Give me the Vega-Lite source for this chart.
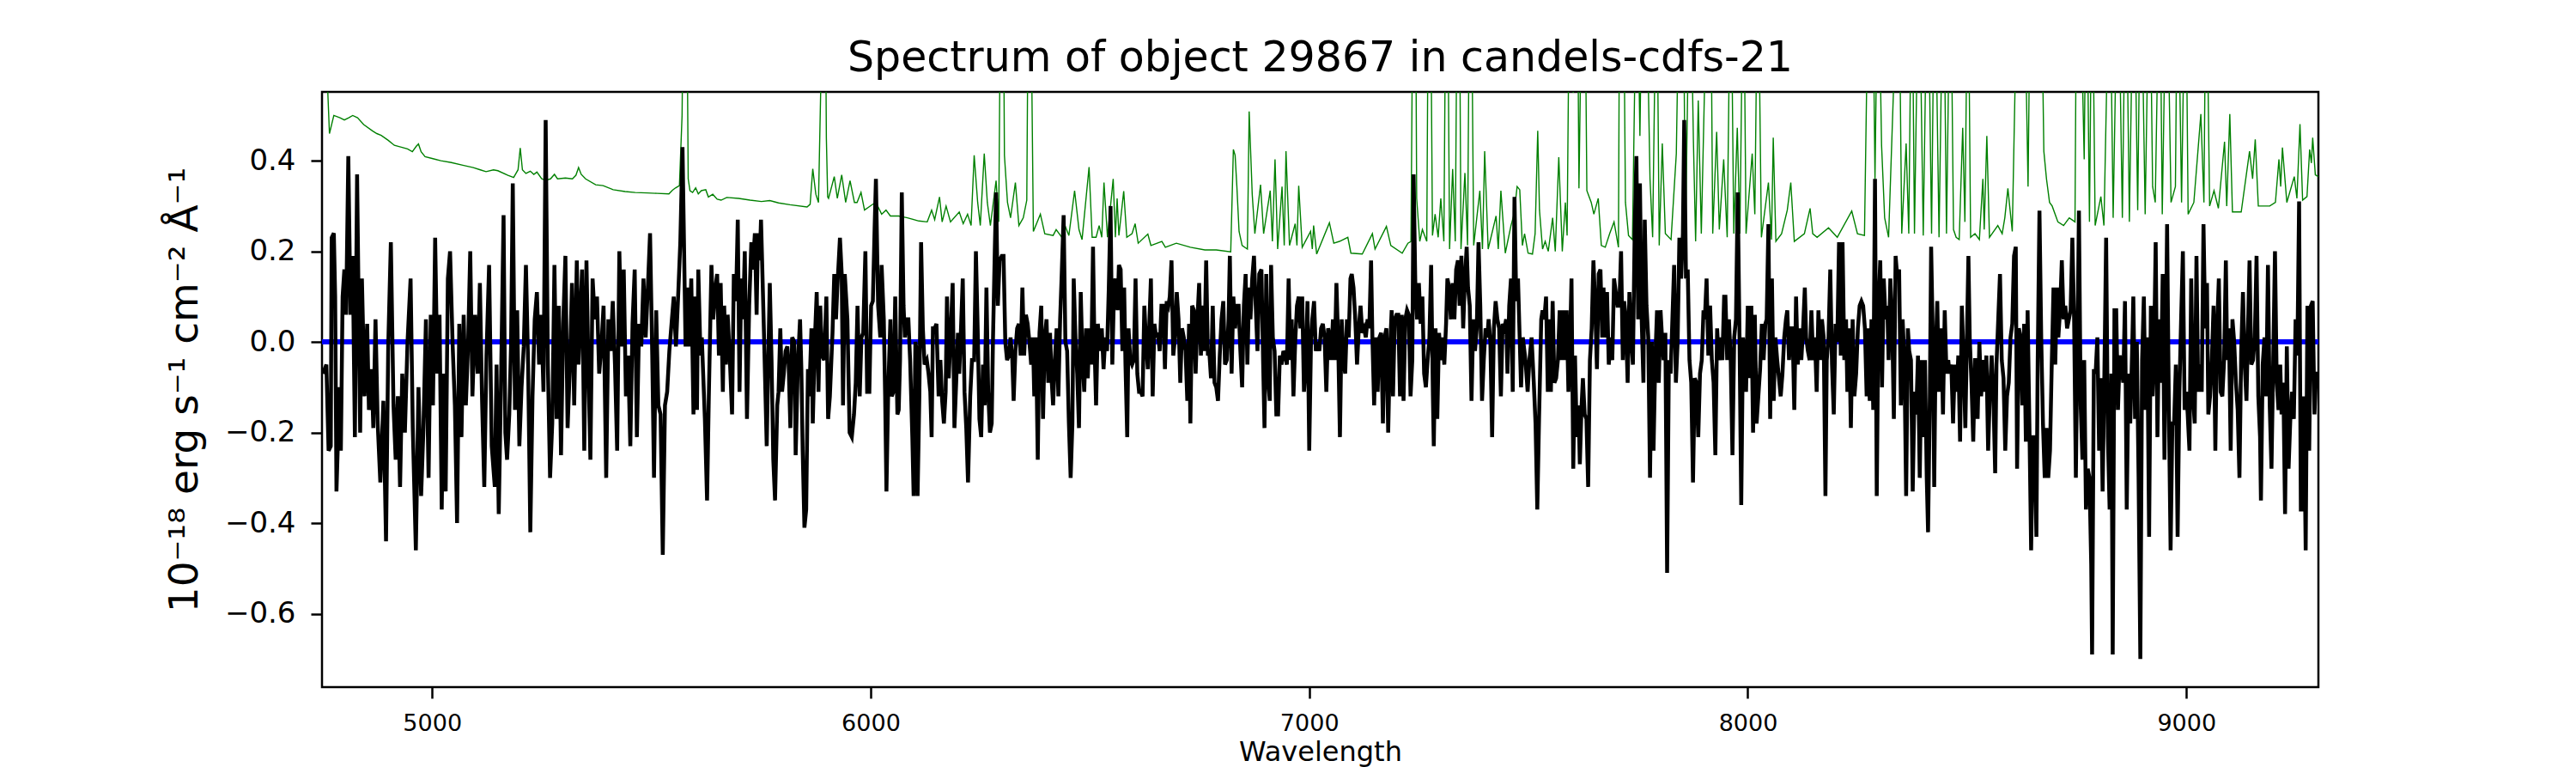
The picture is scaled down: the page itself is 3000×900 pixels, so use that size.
{
  "$schema": "https://vega.github.io/schema/vega-lite/v6.json",
  "autosize": {"type": "none"},
  "width": 2325,
  "height": 693,
  "padding": {"left": 375, "top": 107, "right": 300, "bottom": 100},
  "background": "white",
  "title": {"text": "Spectrum of object 29867 in candels-cdfs-21", "fontSize": 49, "font": "DejaVu Sans", "fontWeight": "normal", "color": "#000", "offset": 14, "anchor": "middle"},
  "datasets": {
    "sky": [
      {"w":4750,"f":0.9},{"w":4752,"f":0.8},{"w":4766,"f":0.46},{"w":4776,"f":0.5},{"w":4790,"f":0.495},{"w":4800,"f":0.49},{"w":4810,"f":0.495},{"w":4819,"f":0.5},{"w":4830,"f":0.495},{"w":4844,"f":0.48},{"w":4864,"f":0.466},{"w":4874,"f":0.46},{"w":4884,"f":0.456},{"w":4900,"f":0.445},{"w":4914,"f":0.434},{"w":4930,"f":0.43},{"w":4944,"f":0.426},{"w":4955,"f":0.42},{"w":4964,"f":0.432},{"w":4969,"f":0.437},{"w":4975,"f":0.42},{"w":4984,"f":0.409},{"w":5000,"f":0.405},{"w":5020,"f":0.4},{"w":5044,"f":0.396},{"w":5070,"f":0.39},{"w":5094,"f":0.385},{"w":5110,"f":0.38},{"w":5123,"f":0.376},{"w":5140,"f":0.38},{"w":5150,"f":0.378},{"w":5173,"f":0.368},{"w":5186,"f":0.363},{"w":5196,"f":0.38},{"w":5201,"f":0.428},{"w":5206,"f":0.38},{"w":5214,"f":0.372},{"w":5224,"f":0.377},{"w":5232,"f":0.37},{"w":5239,"f":0.375},{"w":5250,"f":0.36},{"w":5259,"f":0.357},{"w":5270,"f":0.36},{"w":5279,"f":0.37},{"w":5286,"f":0.36},{"w":5304,"f":0.362},{"w":5320,"f":0.36},{"w":5328,"f":0.368},{"w":5334,"f":0.385},{"w":5340,"f":0.37},{"w":5350,"f":0.36},{"w":5373,"f":0.347},{"w":5390,"f":0.345},{"w":5413,"f":0.336},{"w":5440,"f":0.332},{"w":5463,"f":0.33},{"w":5490,"f":0.329},{"w":5513,"f":0.328},{"w":5540,"f":0.327},{"w":5548,"f":0.335},{"w":5555,"f":0.34},{"w":5564,"f":0.345},{"w":5570,"f":0.5},{"w":5574,"f":0.9},{"w":5580,"f":0.9},{"w":5584,"f":0.36},
      {"w":5588,"f":0.334},{"w":5594,"f":0.33},{"w":5601,"f":0.34},{"w":5607,"f":0.327},{"w":5614,"f":0.334},{"w":5624,"f":0.336},{"w":5630,"f":0.32},{"w":5640,"f":0.326},{"w":5650,"f":0.315},{"w":5659,"f":0.313},{"w":5672,"f":0.319},{"w":5699,"f":0.317},{"w":5725,"f":0.313},{"w":5751,"f":0.31},{"w":5770,"f":0.312},{"w":5790,"f":0.307},{"w":5816,"f":0.303},{"w":5855,"f":0.298},{"w":5862,"f":0.304},{"w":5868,"f":0.382},{"w":5875,"f":0.326},{"w":5881,"f":0.308},{"w":5887,"f":0.6},{"w":5891,"f":0.9},{"w":5896,"f":0.9},{"w":5899,"f":0.45},{"w":5902,"f":0.32},{"w":5904,"f":0.317},{"w":5917,"f":0.365},{"w":5924,"f":0.317},{"w":5934,"f":0.369},{"w":5943,"f":0.308},{"w":5953,"f":0.356},{"w":5963,"f":0.308},{"w":5969,"f":0.308},{"w":5978,"f":0.33},{"w":5986,"f":0.291},{"w":6005,"f":0.304},{"w":6012,"f":0.308},{"w":6025,"f":0.282},{"w":6035,"f":0.291},{"w":6045,"f":0.278},{"w":6064,"f":0.278},{"w":6084,"f":0.274},{"w":6110,"f":0.267},{"w":6129,"f":0.265},{"w":6139,"f":0.291},{"w":6146,"f":0.27},{"w":6157,"f":0.32},{"w":6163,"f":0.265},{"w":6172,"f":0.3},{"w":6182,"f":0.265},{"w":6202,"f":0.287},{"w":6211,"f":0.261},{"w":6221,"f":0.282},{"w":6229,"f":0.257},{"w":6236,"f":0.412},{"w":6244,"f":0.308},{"w":6250,"f":0.257},{"w":6259,"f":0.416},{"w":6266,"f":0.308},{"w":6273,"f":0.257},{"w":6286,"f":0.356},{"w":6292,"f":0.265},{"w":6297,"f":0.9},{"w":6302,"f":0.9},{"w":6305,"f":0.412},{"w":6312,"f":0.308},{"w":6319,"f":0.274},{"w":6330,"f":0.352},{"w":6338,"f":0.257},{"w":6348,"f":0.274},{"w":6356,"f":0.313},{"w":6360,"f":0.9},{"w":6364,"f":0.9},{"w":6371,"f":0.244},{"w":6387,"f":0.282},{"w":6397,"f":0.239},{"w":6416,"f":0.235},{"w":6423,"f":0.248},{"w":6436,"f":0.231},{"w":6443,"f":0.257},{"w":6452,"f":0.235},{"w":6465,"f":0.334},{"w":6475,"f":0.248},{"w":6482,"f":0.226},{"w":6498,"f":0.386},{"w":6505,"f":0.231},
      {"w":6514,"f":0.231},{"w":6521,"f":0.257},{"w":6527,"f":0.231},{"w":6532,"f":0.352},{"w":6540,"f":0.231},{"w":6553,"f":0.36},{"w":6558,"f":0.231},{"w":6562,"f":0.317},{"w":6566,"f":0.235},{"w":6577,"f":0.333},{"w":6584,"f":0.231},{"w":6596,"f":0.239},{"w":6603,"f":0.261},{"w":6610,"f":0.218},{"w":6632,"f":0.238},{"w":6639,"f":0.213},{"w":6664,"f":0.222},{"w":6672,"f":0.209},{"w":6697,"f":0.218},{"w":6729,"f":0.209},{"w":6762,"f":0.203},{"w":6788,"f":0.203},{"w":6821,"f":0.199},{"w":6827,"f":0.425},{"w":6831,"f":0.412},{"w":6835,"f":0.343},{"w":6840,"f":0.244},{"w":6847,"f":0.213},{"w":6859,"f":0.205},{"w":6863,"f":0.509},{"w":6870,"f":0.326},{"w":6876,"f":0.239},{"w":6889,"f":0.347},{"w":6896,"f":0.239},{"w":6911,"f":0.334},{"w":6916,"f":0.222},{"w":6922,"f":0.403},{"w":6928,"f":0.205},{"w":6938,"f":0.343},{"w":6943,"f":0.213},{"w":6947,"f":0.421},{"w":6955,"f":0.213},{"w":6968,"f":0.261},{"w":6972,"f":0.213},{"w":6976,"f":0.345},{"w":6984,"f":0.209},{"w":7003,"f":0.244},{"w":7007,"f":0.205},{"w":7010,"f":0.257},{"w":7017,"f":0.194},{"w":7046,"f":0.263},{"w":7056,"f":0.218},{"w":7069,"f":0.222},{"w":7088,"f":0.231},{"w":7095,"f":0.196},{"w":7121,"f":0.194},{"w":7144,"f":0.239},{"w":7150,"f":0.205},{"w":7176,"f":0.255},{"w":7186,"f":0.213},{"w":7212,"f":0.196},{"w":7225,"f":0.218},{"w":7232,"f":0.222},{"w":7237,"f":0.9},{"w":7242,"f":0.9},{"w":7245,"f":0.317},{"w":7252,"f":0.222},{"w":7258,"f":0.248},{"w":7268,"f":0.222},{"w":7272,"f":0.9},{"w":7276,"f":0.9},{"w":7281,"f":0.235},{"w":7287,"f":0.282},{"w":7294,"f":0.231},{"w":7300,"f":0.317},{"w":7307,"f":0.222},{"w":7312,"f":0.9},{"w":7315,"f":0.9},{"w":7320,"f":0.205},{"w":7327,"f":0.382},{"w":7333,"f":0.222},{"w":7338,"f":0.9},{"w":7342,"f":0.9},{"w":7346,"f":0.205},{"w":7355,"f":0.373},{"w":7361,"f":0.213},{"w":7366,"f":0.9},{"w":7369,"f":0.9},{"w":7375,"f":0.213},{"w":7389,"f":0.334},{"w":7395,"f":0.205},{"w":7400,"f":0.421},{"w":7408,"f":0.205},{"w":7426,"f":0.278},{"w":7431,"f":0.205},{"w":7437,"f":0.334},{"w":7447,"f":0.196},{"w":7460,"f":0.257},{"w":7467,"f":0.282},{"w":7474,"f":0.343},
      {"w":7480,"f":0.336},{"w":7486,"f":0.213},{"w":7491,"f":0.239},{"w":7499,"f":0.196},{"w":7509,"f":0.194},{"w":7515,"f":0.239},{"w":7521,"f":0.466},{"w":7525,"f":0.291},{"w":7532,"f":0.205},{"w":7538,"f":0.222},{"w":7545,"f":0.2},{"w":7555,"f":0.274},{"w":7561,"f":0.2},{"w":7569,"f":0.408},{"w":7577,"f":0.2},{"w":7584,"f":0.308},{"w":7588,"f":0.235},{"w":7594,"f":0.9},{"w":7598,"f":0.9},{"w":7602,"f":0.55},{"w":7607,"f":0.9},{"w":7611,"f":0.9},{"w":7615,"f":0.339},{"w":7623,"f":0.9},{"w":7628,"f":0.9},{"w":7633,"f":0.334},{"w":7643,"f":0.308},{"w":7649,"f":0.282},{"w":7659,"f":0.317},{"w":7666,"f":0.213},{"w":7675,"f":0.209},{"w":7685,"f":0.239},{"w":7695,"f":0.265},{"w":7705,"f":0.209},{"w":7708,"f":0.9},{"w":7716,"f":0.9},{"w":7721,"f":0.308},{"w":7728,"f":0.235},{"w":7737,"f":0.226},{"w":7747,"f":0.9},{"w":7754,"f":0.455},{"w":7760,"f":0.9},{"w":7767,"f":0.9},{"w":7777,"f":0.36},{"w":7783,"f":0.231},{"w":7792,"f":0.9},{"w":7798,"f":0.213},{"w":7805,"f":0.438},{"w":7812,"f":0.239},{"w":7825,"f":0.226},{"w":7837,"f":0.416},{"w":7845,"f":0.9},{"w":7852,"f":0.9},{"w":7858,"f":0.231},{"w":7868,"f":0.9},{"w":7876,"f":0.442},{"w":7881,"f":0.222},{"w":7887,"f":0.533},{"w":7894,"f":0.239},{"w":7909,"f":0.9},{"w":7915,"f":0.9},{"w":7920,"f":0.239},{"w":7929,"f":0.464},{"w":7935,"f":0.248},{"w":7945,"f":0.403},{"w":7953,"f":0.231},{"w":7961,"f":0.9},{"w":7968,"f":0.239},{"w":7976,"f":0.473},{"w":7982,"f":0.239},{"w":7990,"f":0.9},{"w":7996,"f":0.239},{"w":8010,"f":0.416},{"w":8016,"f":0.282},{"w":8023,"f":0.9},{"w":8031,"f":0.231},{"w":8047,"f":0.352},{"w":8054,"f":0.226},{"w":8058,"f":0.451},{"w":8064,"f":0.222},{"w":8077,"f":0.239},{"w":8090,"f":0.291},{"w":8098,"f":0.352},{"w":8106,"f":0.222},{"w":8129,"f":0.239},{"w":8142,"f":0.295},{"w":8148,"f":0.239},{"w":8158,"f":0.231},{"w":8184,"f":0.252},{"w":8204,"f":0.231},{"w":8237,"f":0.289},{"w":8250,"f":0.239},{"w":8266,"f":0.235},{"w":8276,"f":0.9},{"w":8284,"f":0.9},{"w":8290,"f":0.36},{"w":8297,"f":0.9},{"w":8305,"f":0.434},{"w":8312,"f":0.274},{"w":8321,"f":0.231},{"w":8344,"f":0.9},{"w":8351,"f":0.239},{"w":8361,"f":0.438},{"w":8367,"f":0.239},{"w":8374,"f":0.9},{"w":8380,"f":0.239},{"w":8390,"f":0.9},{"w":8400,"f":0.235},{"w":8410,"f":0.9},{"w":8419,"f":0.239},{"w":8426,"f":0.9},{"w":8436,"f":0.231},
      {"w":8446,"f":0.9},{"w":8453,"f":0.239},{"w":8462,"f":0.9},{"w":8469,"f":0.248},{"w":8475,"f":0.231},{"w":8482,"f":0.226},{"w":8490,"f":0.473},{"w":8495,"f":0.265},{"w":8502,"f":0.9},{"w":8508,"f":0.231},{"w":8518,"f":0.239},{"w":8528,"f":0.226},{"w":8536,"f":0.36},{"w":8539,"f":0.248},{"w":8545,"f":0.455},{"w":8551,"f":0.231},{"w":8570,"f":0.257},{"w":8580,"f":0.239},{"w":8586,"f":0.274},{"w":8593,"f":0.339},{"w":8603,"f":0.244},{"w":8616,"f":0.9},{"w":8629,"f":0.9},{"w":8639,"f":0.343},{"w":8645,"f":0.9},{"w":8668,"f":0.9},{"w":8675,"f":0.421},{"w":8681,"f":0.36},{"w":8688,"f":0.308},{"w":8694,"f":0.3},{"w":8707,"f":0.265},{"w":8720,"f":0.257},{"w":8733,"f":0.274},{"w":8746,"f":0.265},{"w":8750,"f":0.9},{"w":8756,"f":0.9},{"w":8767,"f":0.403},{"w":8772,"f":0.9},{"w":8779,"f":0.265},{"w":8785,"f":0.9},{"w":8792,"f":0.257},{"w":8805,"f":0.321},{"w":8812,"f":0.257},{"w":8825,"f":0.9},{"w":8833,"f":0.274},{"w":8844,"f":0.9},{"w":8854,"f":0.274},{"w":8862,"f":0.9},{"w":8870,"f":0.265},{"w":8880,"f":0.9},{"w":8889,"f":0.291},{"w":8896,"f":0.9},{"w":8906,"f":0.282},{"w":8916,"f":0.9},{"w":8923,"f":0.343},{"w":8929,"f":0.308},{"w":8939,"f":0.9},{"w":8945,"f":0.282},{"w":8955,"f":0.9},{"w":8965,"f":0.308},{"w":8975,"f":0.343},{"w":8980,"f":0.9},{"w":8989,"f":0.308},{"w":8998,"f":0.9},{"w":9004,"f":0.282},{"w":9017,"f":0.308},{"w":9033,"f":0.503},{"w":9040,"f":0.308},{"w":9045,"f":0.9},{"w":9053,"f":0.3},{"w":9063,"f":0.334},{"w":9073,"f":0.295},{"w":9087,"f":0.442},{"w":9092,"f":0.3},{"w":9099,"f":0.503},{"w":9105,"f":0.287},{"w":9125,"f":0.287},{"w":9144,"f":0.421},{"w":9151,"f":0.36},{"w":9157,"f":0.447},{"w":9164,"f":0.3},{"w":9190,"f":0.3},{"w":9203,"f":0.308},{"w":9211,"f":0.403},{"w":9215,"f":0.343},{"w":9219,"f":0.429},{"w":9229,"f":0.308},{"w":9246,"f":0.365},{"w":9252,"f":0.317},{"w":9259,"f":0.481},{"w":9265,"f":0.313},{"w":9275,"f":0.321},{"w":9281,"f":0.425},{"w":9285,"f":0.395},{"w":9288,"f":0.451},{"w":9294,"f":0.369},{"w":9301,"f":0.365}
    ],
    "spec": [
      {"w":4751,"f":-0.07},{"w":4759,"f":-0.05},{"w":4764,"f":-0.24},{"w":4769,"f":-0.23},{"w":4771,"f":0.23},{"w":4776,"f":0.24},{"w":4779,"f":0.1},{"w":4782,"f":-0.33},{"w":4789,"f":-0.1},{"w":4792,"f":-0.24},{"w":4796,"f":0.1},{"w":4800,"f":0.16},{"w":4804,"f":0.06},{"w":4809,"f":0.41},{"w":4814,"f":0.06},{"w":4819,"f":0.19},{"w":4824,"f":-0.21},{"w":4829,"f":0.37},{"w":4836,"f":-0.2},{"w":4840,"f":0.14},{"w":4846,"f":-0.12},{"w":4852,"f":0.04},{"w":4856,"f":-0.15},{"w":4862,"f":-0.06},{"w":4866,"f":-0.19},{"w":4871,"f":0.05},{"w":4876,"f":-0.18},{"w":4882,"f":-0.31},{"w":4889,"f":-0.13},{"w":4895,"f":-0.44},{"w":4900,"f":-0.01},{"w":4906,"f":0.22},{"w":4912,"f":-0.14},{"w":4917,"f":-0.26},{"w":4922,"f":-0.12},{"w":4927,"f":-0.32},{"w":4932,"f":-0.07},{"w":4938,"f":-0.2},{"w":4944,"f":0.0},{"w":4951,"f":0.14},{"w":4956,"f":-0.19},{"w":4963,"f":-0.46},{"w":4969,"f":-0.1},{"w":4975,"f":-0.34},{"w":4980,"f":-0.2},{"w":4986,"f":0.05},{"w":4992,"f":-0.3},{"w":4997,"f":0.06},{"w":5002,"f":-0.14},{"w":5007,"f":0.23},{"w":5012,"f":-0.07},{"w":5017,"f":0.06},{"w":5022,"f":-0.37},{"w":5026,"f":-0.07},{"w":5031,"f":-0.33},{"w":5036,"f":0.14},{"w":5041,"f":0.2},{"w":5047,"f":-0.01},{"w":5052,"f":-0.14},{"w":5057,"f":-0.4},{"w":5062,"f":0.04},{"w":5067,"f":-0.21},{"w":5072,"f":0.06},{"w":5077,"f":-0.14},{"w":5082,"f":-0.01},{"w":5087,"f":0.2},{"w":5092,"f":-0.12},{"w":5098,"f":0.06},{"w":5104,"f":-0.07},{"w":5109,"f":0.13},{"w":5114,"f":-0.13},{"w":5119,"f":-0.32},{"w":5124,"f":-0.03},{"w":5130,"f":0.17},{"w":5136,"f":-0.23},{"w":5143,"f":-0.32},{"w":5147,"f":-0.05},{"w":5152,"f":-0.38},{"w":5157,"f":-0.1},{"w":5163,"f":0.28},{"w":5167,"f":-0.2},{"w":5171,"f":-0.26},{"w":5176,"f":-0.16},{"w":5180,"f":-0.01},{"w":5184,"f":0.35},{"w":5189,"f":-0.15},{"w":5194,"f":0.07},{"w":5199,"f":-0.23},{"w":5204,"f":-0.1},{"w":5209,"f":-0.01},{"w":5214,"f":0.17},{"w":5219,"f":-0.05},{"w":5224,"f":-0.42},{"w":5229,"f":-0.12},{"w":5234,"f":0.05},{"w":5239,"f":0.11},{"w":5244,"f":-0.05},{"w":5249,"f":0.06},{"w":5254,"f":-0.11},{"w":5259,"f":0.49},{"w":5264,"f":-0.05},{"w":5269,"f":-0.3},{"w":5274,"f":-0.18},{"w":5279,"f":0.17},{"w":5284,"f":-0.17},{"w":5289,"f":0.08},{"w":5294,"f":-0.25},{"w":5299,"f":0.04},{"w":5304,"f":0.19},{"w":5309,"f":-0.19},{"w":5314,"f":-0.06},{"w":5319,"f":0.13},{"w":5324,"f":-0.14},{"w":5330,"f":0.18},{"w":5334,"f":-0.05},{"w":5338,"f":0.06},{"w":5342,"f":0.16},{"w":5347,"f":-0.24},{"w":5352,"f":0.18},{"w":5357,"f":-0.08},{"w":5361,"f":-0.26},{"w":5366,"f":0.14},{"w":5371,"f":0.05},{"w":5376,"f":0.1},{"w":5381,"f":-0.07},{"w":5386,"f":-0.01},{"w":5391,"f":0.08},{"w":5397,"f":-0.3},{"w":5402,"f":0.05},{"w":5407,"f":-0.02},{"w":5412,"f":0.09},{"w":5417,"f":-0.05},{"w":5422,"f":-0.24},{"w":5427,"f":0.2},{"w":5432,"f":-0.01},{"w":5437,"f":0.16},{"w":5442,"f":-0.12},{"w":5447,"f":-0.03},{"w":5452,"f":-0.23},{"w":5457,"f":0.04},{"w":5462,"f":0.16},{"w":5467,"f":-0.21},{"w":5472,"f":0.04},{"w":5477,"f":-0.01},{"w":5482,"f":0.14},{"w":5487,"f":0.01},{"w":5492,"f":0.12},{"w":5497,"f":0.24},{"w":5502,"f":-0.03},{"w":5506,"f":-0.3},{"w":5511,"f":0.07},{"w":5516,"f":-0.14},{"w":5521,"f":-0.16},{"w":5526,"f":-0.47},{"w":5531,"f":-0.14},{"w":5536,"f":-0.11},{"w":5541,"f":-0.02},{"w":5546,"f":0.04},{"w":5551,"f":0.1},{"w":5556,"f":-0.01},{"w":5561,"f":0.1},{"w":5566,"f":0.22},{"w":5571,"f":0.43},
      {"w":5578,"f":-0.01},{"w":5582,"f":0.12},{"w":5586,"f":-0.01},{"w":5591,"f":0.14},{"w":5596,"f":-0.16},{"w":5599,"f":0.1},{"w":5604,"f":-0.15},{"w":5607,"f":0.16},{"w":5612,"f":-0.03},{"w":5615,"f":0.01},{"w":5622,"f":-0.17},{"w":5627,"f":-0.35},{"w":5631,"f":-0.12},{"w":5637,"f":0.17},{"w":5641,"f":0.05},{"w":5646,"f":0.12},{"w":5650,"f":0.15},{"w":5654,"f":-0.03},{"w":5658,"f":0.13},{"w":5663,"f":-0.11},{"w":5666,"f":0.08},{"w":5670,"f":-0.05},{"w":5674,"f":0.06},{"w":5679,"f":-0.04},{"w":5684,"f":-0.16},{"w":5688,"f":0.15},{"w":5693,"f":0.09},{"w":5697,"f":0.27},{"w":5701,"f":-0.11},{"w":5705,"f":0.14},{"w":5709,"f":0.05},{"w":5713,"f":0.2},{"w":5718,"f":-0.17},{"w":5723,"f":0.08},{"w":5728,"f":0.22},{"w":5731,"f":0.16},{"w":5736,"f":0.24},{"w":5740,"f":0.06},{"w":5743,"f":0.24},{"w":5747,"f":0.18},{"w":5750,"f":0.27},{"w":5753,"f":0.16},{"w":5757,"f":0.01},{"w":5763,"f":-0.23},{"w":5766,"f":-0.07},{"w":5770,"f":0.13},{"w":5774,"f":-0.04},{"w":5778,"f":-0.26},{"w":5782,"f":-0.35},{"w":5787,"f":-0.14},{"w":5790,"f":-0.11},{"w":5794,"f":0.03},{"w":5798,"f":-0.11},{"w":5802,"f":-0.07},{"w":5806,"f":-0.02},{"w":5810,"f":-0.01},{"w":5813,"f":-0.05},{"w":5817,"f":-0.19},{"w":5821,"f":0.01},{"w":5826,"f":0.0},{"w":5829,"f":-0.25},{"w":5834,"f":-0.05},{"w":5839,"f":0.05},{"w":5842,"f":-0.06},{"w":5845,"f":-0.24},{"w":5849,"f":-0.41},{"w":5853,"f":-0.37},{"w":5857,"f":-0.06},{"w":5860,"f":-0.12},{"w":5865,"f":0.03},{"w":5868,"f":-0.18},{"w":5873,"f":0.01},{"w":5877,"f":0.11},{"w":5881,"f":-0.11},{"w":5885,"f":0.08},{"w":5889,"f":-0.03},{"w":5894,"f":-0.04},{"w":5899,"f":0.1},{"w":5903,"f":-0.17},{"w":5907,"f":-0.12},{"w":5913,"f":0.02},{"w":5917,"f":0.15},{"w":5921,"f":0.05},{"w":5924,"f":0.12},{"w":5930,"f":0.23},{"w":5934,"f":0.15},{"w":5937,"f":-0.14},{"w":5941,"f":0.15},{"w":5947,"f":0.05},{"w":5952,"f":-0.2},{"w":5957,"f":-0.21},{"w":5962,"f":-0.16},{"w":5966,"f":-0.09},{"w":5970,"f":0.08},{"w":5975,"f":-0.12},{"w":5979,"f":0.01},{"w":5983,"f":0.02},{"w":5988,"f":0.2},{"w":5992,"f":-0.11},{"w":5997,"f":-0.11},{"w":6001,"f":0.08},{"w":6005,"f":0.09},{"w":6009,"f":0.25},{"w":6012,"f":0.36},{"w":6017,"f":0.08},{"w":6022,"f":0.01},{"w":6025,"f":0.17},{"w":6030,"f":0.05},{"w":6033,"f":-0.12},{"w":6036,"f":-0.33},{"w":6040,"f":-0.11},{"w":6045,"f":0.05},{"w":6048,"f":-0.12},{"w":6052,"f":-0.11},{"w":6056,"f":0.1},{"w":6061,"f":-0.16},{"w":6064,"f":-0.15},{"w":6067,"f":-0.04},{"w":6071,"f":0.33},{"w":6075,"f":0.08},{"w":6078,"f":0.01},{"w":6082,"f":0.05},{"w":6086,"f":0.05},{"w":6090,"f":-0.04},{"w":6095,"f":-0.21},{"w":6098,"f":-0.34},{"w":6102,"f":0.0},{"w":6105,"f":-0.02},{"w":6107,"f":-0.34},{"w":6111,"f":-0.12},{"w":6115,"f":0.22},{"w":6119,"f":0.03},{"w":6123,"f":-0.05},{"w":6128,"f":-0.04},{"w":6132,"f":-0.07},{"w":6136,"f":-0.11},{"w":6139,"f":-0.21},{"w":6142,"f":0.03},{"w":6146,"f":0.03},{"w":6150,"f":0.04},{"w":6155,"f":-0.12},{"w":6159,"f":-0.04},{"w":6163,"f":-0.13},{"w":6167,"f":-0.18},{"w":6171,"f":-0.11},{"w":6174,"f":0.1},{"w":6178,"f":-0.08},{"w":6183,"f":0.03},{"w":6187,"f":0.13},{"w":6191,"f":-0.19},{"w":6195,"f":-0.09},{"w":6199,"f":0.02},{"w":6202,"f":-0.07},{"w":6206,"f":0.03},{"w":6210,"f":0.14},{"w":6214,"f":-0.11},{"w":6218,"f":-0.19},{"w":6222,"f":-0.31},{"w":6227,"f":-0.12},{"w":6231,"f":-0.04},{"w":6236,"f":-0.04},{"w":6240,"f":0.2},{"w":6244,"f":0.03},{"w":6248,"f":-0.17},{"w":6252,"f":-0.21},{"w":6256,"f":-0.05},{"w":6260,"f":-0.14},{"w":6264,"f":0.12},{"w":6268,"f":-0.11},{"w":6272,"f":-0.2},{"w":6276,"f":-0.18},{"w":6279,"f":0.01},{"w":6283,"f":0.2},{"w":6286,"f":0.33},{"w":6290,"f":0.08},{"w":6294,"f":0.18},{"w":6299,"f":0.19},{"w":6303,"f":0.19},{"w":6307,"f":0.0},{"w":6311,"f":-0.04},{"w":6315,"f":-0.03},{"w":6319,"f":0.01},{"w":6323,"f":-0.04},{"w":6326,"f":-0.13},{"w":6330,"f":-0.02},{"w":6334,"f":0.03},{"w":6338,"f":0.04},{"w":6342,"f":-0.03},{"w":6346,"f":0.12},{"w":6350,"f":-0.03},{"w":6354,"f":0.06},{"w":6358,"f":0.04},{"w":6362,"f":0.0},{"w":6366,"f":-0.05},{"w":6370,"f":0.01},{"w":6373,"f":-0.12},{"w":6377,"f":0.01},{"w":6381,"f":-0.26},{"w":6385,"f":0.02},{"w":6389,"f":0.08},{"w":6393,"f":-0.17},{"w":6397,"f":0.01},{"w":6401,"f":0.05},{"w":6405,"f":-0.09},{"w":6409,"f":0.02},{"w":6413,"f":-0.09},{"w":6416,"f":-0.14},{"w":6420,"f":-0.04},{"w":6424,"f":0.03},{"w":6428,"f":-0.12},{"w":6432,"f":0.05},{"w":6436,"f":0.16},{"w":6440,"f":0.28},{"w":6444,"f":0.0},{"w":6448,"f":-0.02},{"w":6452,"f":-0.18},{"w":6456,"f":-0.3},{"w":6460,"f":-0.18},{"w":6463,"f":0.14},{"w":6467,"f":0.01},{"w":6471,"f":-0.07},{"w":6475,"f":-0.19},{"w":6479,"f":0.11},{"w":6483,"f":-0.04},{"w":6487,"f":-0.11},{"w":6491,"f":0.03},{"w":6495,"f":-0.08},{"w":6499,"f":0.03},{"w":6503,"f":-0.05},{"w":6507,"f":0.21},{"w":6510,"f":0.01},{"w":6514,"f":-0.14},{"w":6518,"f":0.04},
      {"w":6523,"f":-0.02},{"w":6527,"f":0.03},{"w":6531,"f":-0.06},{"w":6535,"f":0.01},{"w":6539,"f":-0.02},{"w":6543,"f":0.12},{"w":6547,"f":0.3},{"w":6551,"f":-0.05},{"w":6555,"f":0.12},{"w":6558,"f":0.14},{"w":6563,"f":0.07},{"w":6566,"f":0.17},{"w":6570,"f":0.16},{"w":6574,"f":-0.02},{"w":6578,"f":0.12},{"w":6581,"f":-0.05},{"w":6585,"f":-0.21},{"w":6588,"f":0.03},{"w":6592,"f":-0.04},{"w":6596,"f":-0.05},{"w":6600,"f":-0.04},{"w":6604,"f":0.14},{"w":6608,"f":-0.07},{"w":6612,"f":-0.11},{"w":6616,"f":-0.11},{"w":6620,"f":-0.12},{"w":6624,"f":0.08},{"w":6628,"f":0.0},{"w":6632,"f":-0.06},{"w":6635,"f":0.03},{"w":6639,"f":0.14},{"w":6643,"f":-0.12},{"w":6647,"f":0.04},{"w":6651,"f":0.01},{"w":6655,"f":0.02},{"w":6659,"f":-0.02},{"w":6663,"f":0.08},{"w":6667,"f":0.08},{"w":6671,"f":-0.06},{"w":6675,"f":0.09},{"w":6679,"f":0.08},{"w":6682,"f":0.1},{"w":6686,"f":0.18},{"w":6690,"f":-0.03},{"w":6694,"f":0.01},{"w":6698,"f":0.11},{"w":6702,"f":0.05},{"w":6706,"f":-0.09},{"w":6710,"f":0.03},{"w":6714,"f":0.01},{"w":6718,"f":-0.02},{"w":6722,"f":-0.13},{"w":6726,"f":0.04},{"w":6729,"f":-0.18},{"w":6733,"f":0.08},{"w":6737,"f":0.07},{"w":6741,"f":-0.07},{"w":6745,"f":0.05},{"w":6749,"f":0.13},{"w":6753,"f":-0.03},{"w":6757,"f":0.08},{"w":6761,"f":-0.02},{"w":6765,"f":0.18},{"w":6769,"f":-0.03},{"w":6772,"f":-0.02},{"w":6776,"f":-0.08},{"w":6780,"f":0.08},{"w":6784,"f":-0.09},{"w":6788,"f":-0.1},{"w":6792,"f":-0.13},{"w":6796,"f":-0.03},{"w":6800,"f":0.05},{"w":6804,"f":0.09},{"w":6808,"f":-0.05},{"w":6812,"f":-0.04},{"w":6816,"f":0.05},{"w":6819,"f":0.19},{"w":6823,"f":-0.07},{"w":6827,"f":0.1},{"w":6831,"f":0.03},{"w":6835,"f":0.08},{"w":6839,"f":0.08},{"w":6843,"f":-0.02},{"w":6847,"f":-0.1},{"w":6851,"f":0.08},{"w":6855,"f":0.15},{"w":6859,"f":-0.05},{"w":6863,"f":0.12},{"w":6866,"f":0.05},{"w":6870,"f":0.14},{"w":6874,"f":0.19},{"w":6878,"f":0.08},{"w":6882,"f":-0.02},{"w":6886,"f":0.15},{"w":6891,"f":0.16},{"w":6895,"f":-0.05},{"w":6898,"f":-0.19},{"w":6902,"f":0.15},{"w":6906,"f":-0.08},{"w":6910,"f":-0.13},{"w":6913,"f":0.17},{"w":6917,"f":0.01},{"w":6921,"f":-0.02},{"w":6925,"f":-0.16},{"w":6929,"f":-0.16},{"w":6933,"f":-0.03},{"w":6937,"f":-0.05},{"w":6941,"f":-0.02},{"w":6945,"f":-0.03},{"w":6949,"f":-0.05},{"w":6953,"f":0.14},{"w":6957,"f":-0.04},{"w":6960,"f":0.05},{"w":6964,"f":-0.12},{"w":6968,"f":0.0},{"w":6972,"f":0.08},{"w":6976,"f":0.1},{"w":6980,"f":0.03},{"w":6984,"f":0.1},{"w":6988,"f":-0.11},{"w":6992,"f":-0.05},{"w":6996,"f":0.09},{"w":7000,"f":-0.24},{"w":7004,"f":0.0},{"w":7007,"f":0.05},{"w":7011,"f":0.09},{"w":7015,"f":-0.02},{"w":7019,"f":0.0},{"w":7023,"f":-0.02},{"w":7027,"f":0.03},{"w":7031,"f":0.04},{"w":7035,"f":0.01},{"w":7039,"f":-0.11},{"w":7043,"f":0.03},{"w":7047,"f":0.01},{"w":7050,"f":-0.04},{"w":7054,"f":0.05},{"w":7058,"f":-0.04},{"w":7062,"f":0.13},{"w":7066,"f":0.0},{"w":7070,"f":-0.21},{"w":7074,"f":0.05},{"w":7078,"f":-0.04},{"w":7082,"f":-0.07},{"w":7086,"f":0.05},{"w":7090,"f":0.01},{"w":7094,"f":0.14},{"w":7097,"f":0.15},{"w":7101,"f":0.12},{"w":7105,"f":0.05},{"w":7109,"f":-0.05},{"w":7113,"f":0.03},{"w":7117,"f":0.08},{"w":7121,"f":0.02},{"w":7125,"f":0.03},{"w":7129,"f":0.01},{"w":7133,"f":0.05},{"w":7137,"f":0.03},{"w":7141,"f":0.18},{"w":7144,"f":0.01},{"w":7148,"f":-0.14},{"w":7152,"f":0.01},{"w":7156,"f":-0.11},{"w":7160,"f":0.01},{"w":7164,"f":0.02},{"w":7168,"f":-0.18},{"w":7172,"f":0.01},{"w":7176,"f":0.03},{"w":7180,"f":-0.2},{"w":7184,"f":-0.02},{"w":7188,"f":0.07},{"w":7191,"f":-0.12},{"w":7195,"f":0.05},{"w":7199,"f":0.06},{"w":7203,"f":0.06},{"w":7207,"f":-0.12},{"w":7211,"f":0.06},{"w":7215,"f":-0.13},{"w":7219,"f":0.05},{"w":7223,"f":0.07},{"w":7227,"f":0.06},{"w":7231,"f":-0.12},{"w":7235,"f":-0.04},{"w":7238,"f":0.37},{"w":7242,"f":0.12},{"w":7246,"f":0.05},{"w":7250,"f":0.13},{"w":7254,"f":0.04},{"w":7258,"f":0.1},{"w":7262,"f":-0.07},{"w":7266,"f":-0.1},{"w":7270,"f":-0.04},{"w":7274,"f":0.01},{"w":7278,"f":0.17},{"w":7282,"f":-0.12},{"w":7284,"f":-0.23},{"w":7288,"f":0.03},{"w":7292,"f":-0.17},{"w":7296,"f":0.02},{"w":7300,"f":-0.04},{"w":7304,"f":0.01},{"w":7308,"f":-0.05},{"w":7312,"f":0.04},{"w":7315,"f":0.14},{"w":7319,"f":0.12},{"w":7323,"f":0.05},{"w":7327,"f":0.13},{"w":7331,"f":0.05},{"w":7335,"f":0.16},{"w":7339,"f":0.18},{"w":7343,"f":0.08},{"w":7347,"f":0.19},{"w":7351,"f":0.03},{"w":7355,"f":0.14},{"w":7359,"f":0.21},{"w":7362,"f":0.12},{"w":7366,"f":0.08},{"w":7370,"f":-0.13},{"w":7374,"f":0.05},{"w":7378,"f":-0.02},{"w":7382,"f":0.03},{"w":7386,"f":0.22},{"w":7390,"f":0.08},{"w":7394,"f":-0.13},{"w":7398,"f":-0.04},{"w":7402,"f":0.03},{"w":7406,"f":0.01},{"w":7409,"f":0.05},{"w":7413,"f":0.0},{"w":7417,"f":-0.21},{"w":7421,"f":0.03},{"w":7425,"f":0.09},{"w":7429,"f":0.05},{"w":7433,"f":0.03},{"w":7437,"f":-0.12},{"w":7441,"f":0.04},{"w":7445,"f":0.03},{"w":7449,"f":0.05},{"w":7452,"f":-0.07},{"w":7456,"f":0.08},{"w":7460,"f":0.14},{"w":7464,"f":-0.11},{"w":7468,"f":0.32},{"w":7472,"f":0.09},{"w":7476,"f":0.14},
      {"w":7483,"f":-0.1},{"w":7487,"f":0.01},{"w":7493,"f":-0.04},{"w":7498,"f":-0.11},{"w":7502,"f":-0.04},{"w":7507,"f":0.01},{"w":7512,"f":-0.09},{"w":7516,"f":-0.18},{"w":7520,"f":-0.37},{"w":7524,"f":-0.17},{"w":7529,"f":0.05},{"w":7532,"f":0.07},{"w":7536,"f":0.05},{"w":7540,"f":0.1},{"w":7544,"f":-0.11},{"w":7547,"f":0.05},{"w":7551,"f":-0.11},{"w":7555,"f":0.09},{"w":7559,"f":-0.09},{"w":7563,"f":-0.08},{"w":7567,"f":-0.04},{"w":7571,"f":0.07},{"w":7575,"f":-0.04},{"w":7579,"f":0.07},{"w":7583,"f":-0.04},{"w":7587,"f":0.07},{"w":7591,"f":-0.11},{"w":7594,"f":-0.03},{"w":7598,"f":0.14},{"w":7602,"f":-0.28},{"w":7606,"f":-0.03},{"w":7610,"f":-0.21},{"w":7614,"f":-0.14},{"w":7617,"f":-0.27},{"w":7621,"f":-0.14},{"w":7624,"f":-0.08},{"w":7628,"f":-0.16},{"w":7632,"f":-0.17},{"w":7636,"f":-0.32},{"w":7640,"f":-0.04},{"w":7644,"f":0.03},{"w":7648,"f":0.18},{"w":7652,"f":0.08},{"w":7656,"f":-0.06},{"w":7660,"f":0.15},{"w":7664,"f":0.16},{"w":7668,"f":0.01},{"w":7671,"f":0.12},{"w":7675,"f":0.01},{"w":7679,"f":0.11},{"w":7683,"f":-0.05},{"w":7687,"f":0.01},{"w":7691,"f":-0.04},{"w":7695,"f":0.14},{"w":7699,"f":0.11},{"w":7703,"f":0.08},{"w":7707,"f":0.08},{"w":7711,"f":0.2},{"w":7715,"f":-0.04},{"w":7718,"f":0.09},{"w":7722,"f":0.05},{"w":7726,"f":-0.09},{"w":7730,"f":0.11},{"w":7734,"f":0.01},{"w":7738,"f":-0.05},{"w":7742,"f":0.24},{"w":7746,"f":0.41},{"w":7750,"f":0.05},{"w":7754,"f":0.35},{"w":7758,"f":0.05},{"w":7762,"f":-0.09},{"w":7765,"f":0.27},{"w":7769,"f":0.08},{"w":7773,"f":0.01},{"w":7777,"f":-0.3},{"w":7781,"f":0.0},{"w":7785,"f":-0.24},{"w":7789,"f":-0.04},{"w":7793,"f":0.07},{"w":7797,"f":-0.09},{"w":7801,"f":0.07},{"w":7805,"f":0.0},{"w":7808,"f":-0.04},{"w":7812,"f":0.02},{"w":7816,"f":-0.51},{"w":7820,"f":-0.04},{"w":7824,"f":-0.07},{"w":7828,"f":0.05},{"w":7832,"f":0.17},{"w":7836,"f":-0.09},{"w":7840,"f":0.0},{"w":7844,"f":0.23},{"w":7848,"f":0.14},{"w":7852,"f":0.24},{"w":7855,"f":0.49},{"w":7859,"f":0.14},{"w":7863,"f":0.16},{"w":7867,"f":-0.04},{"w":7871,"f":-0.09},{"w":7875,"f":-0.31},{"w":7879,"f":-0.08},{"w":7883,"f":-0.09},{"w":7887,"f":-0.21},{"w":7891,"f":-0.07},{"w":7895,"f":-0.04},{"w":7899,"f":0.07},{"w":7902,"f":0.05},{"w":7906,"f":0.14},{"w":7910,"f":-0.03},{"w":7914,"f":0.08},{"w":7918,"f":-0.04},{"w":7922,"f":-0.09},{"w":7926,"f":-0.25},{"w":7930,"f":0.03},{"w":7934,"f":-0.04},{"w":7938,"f":0.01},{"w":7942,"f":-0.04},{"w":7946,"f":0.1},{"w":7949,"f":0.1},{"w":7953,"f":-0.04},{"w":7957,"f":0.05},{"w":7961,"f":-0.04},{"w":7965,"f":-0.25},{"w":7969,"f":0.01},{"w":7973,"f":0.05},{"w":7977,"f":0.33},{"w":7981,"f":0.02},{"w":7985,"f":-0.36},{"w":7989,"f":0.01},{"w":7993,"f":-0.04},{"w":7996,"f":-0.11},{"w":8000,"f":0.08},{"w":8004,"f":-0.08},{"w":8008,"f":0.08},{"w":8012,"f":-0.2},{"w":8016,"f":0.06},{"w":8020,"f":-0.18},{"w":8024,"f":-0.12},{"w":8028,"f":-0.06},{"w":8032,"f":0.04},{"w":8036,"f":-0.04},{"w":8040,"f":0.04},{"w":8043,"f":0.05},{"w":8047,"f":0.26},{"w":8051,"f":-0.17},{"w":8055,"f":0.14},{"w":8059,"f":-0.13},{"w":8063,"f":0.01},{"w":8067,"f":-0.04},{"w":8071,"f":-0.08},{"w":8075,"f":-0.12},{"w":8079,"f":-0.07},{"w":8083,"f":0.01},{"w":8087,"f":0.05},{"w":8090,"f":0.07},{"w":8094,"f":-0.04},{"w":8098,"f":0.03},{"w":8102,"f":0.03},{"w":8106,"f":-0.15},{"w":8110,"f":0.1},{"w":8114,"f":-0.05},{"w":8118,"f":0.03},{"w":8122,"f":-0.04},{"w":8126,"f":0.03},{"w":8130,"f":0.12},{"w":8133,"f":0.01},{"w":8137,"f":-0.02},{"w":8141,"f":-0.04},{"w":8145,"f":0.07},{"w":8149,"f":-0.04},{"w":8153,"f":0.01},{"w":8157,"f":-0.11},{"w":8161,"f":0.07},{"w":8165,"f":-0.04},{"w":8169,"f":0.05},{"w":8173,"f":0.01},{"w":8177,"f":-0.34},{"w":8180,"f":-0.04},{"w":8184,"f":0.01},{"w":8188,"f":0.16},{"w":8192,"f":-0.05},{"w":8196,"f":-0.16},{"w":8200,"f":0.04},{"w":8204,"f":0.0},{"w":8208,"f":0.22},{"w":8212,"f":-0.03},{"w":8216,"f":0.22},{"w":8220,"f":-0.04},{"w":8224,"f":0.05},{"w":8227,"f":-0.11},{"w":8231,"f":0.03},{"w":8235,"f":-0.19},{"w":8239,"f":0.05},{"w":8243,"f":-0.12},{"w":8247,"f":-0.07},{"w":8251,"f":0.03},{"w":8255,"f":0.08},{"w":8259,"f":0.09},{"w":8263,"f":0.08},{"w":8267,"f":0.03},{"w":8271,"f":-0.12},{"w":8274,"f":0.03},{"w":8278,"f":-0.13},{"w":8282,"f":0.05},{"w":8286,"f":-0.15},{"w":8290,"f":0.36},{"w":8294,"f":-0.34},{"w":8298,"f":0.08},{"w":8302,"f":0.18},{"w":8306,"f":-0.1},{"w":8310,"f":0.14},{"w":8314,"f":0.05},{"w":8318,"f":0.08},{"w":8321,"f":-0.04},{"w":8325,"f":0.14},{"w":8329,"f":0.05},{"w":8333,"f":-0.17},{"w":8337,"f":0.19},{"w":8341,"f":0.14},{"w":8345,"f":0.16},{"w":8349,"f":-0.14},{"w":8353,"f":0.05},{"w":8357,"f":-0.04},{"w":8361,"f":-0.34},{"w":8365,"f":0.03},{"w":8368,"f":-0.02},{"w":8372,"f":-0.04},{"w":8376,"f":-0.33},{"w":8380,"f":-0.11},{"w":8384,"f":-0.16},{"w":8388,"f":-0.03},{"w":8392,"f":-0.3},{"w":8396,"f":-0.04},{"w":8400,"f":-0.21},{"w":8404,"f":-0.04},{"w":8408,"f":-0.3},{"w":8411,"f":-0.42},{"w":8415,"f":-0.12},{"w":8418,"f":0.21},{"w":8422,"f":0.0},{"w":8425,"f":-0.32},{"w":8428,"f":-0.04},{"w":8432,"f":0.09},{"w":8436,"f":-0.11},
      {"w":8441,"f":0.03},{"w":8445,"f":-0.16},{"w":8449,"f":0.07},{"w":8453,"f":-0.07},{"w":8457,"f":-0.04},{"w":8460,"f":-0.07},{"w":8464,"f":-0.05},{"w":8468,"f":-0.18},{"w":8472,"f":-0.05},{"w":8476,"f":-0.11},{"w":8480,"f":-0.03},{"w":8484,"f":-0.22},{"w":8488,"f":0.08},{"w":8492,"f":-0.04},{"w":8496,"f":-0.19},{"w":8500,"f":0.03},{"w":8503,"f":0.19},{"w":8506,"f":0.01},{"w":8510,"f":-0.09},{"w":8514,"f":-0.22},{"w":8518,"f":-0.04},{"w":8522,"f":-0.04},{"w":8524,"f":-0.17},{"w":8528,"f":0.0},{"w":8532,"f":-0.12},{"w":8536,"f":-0.04},{"w":8540,"f":-0.11},{"w":8544,"f":-0.03},{"w":8548,"f":-0.24},{"w":8552,"f":-0.11},{"w":8556,"f":-0.03},{"w":8560,"f":-0.12},{"w":8564,"f":-0.29},{"w":8567,"f":-0.05},{"w":8571,"f":0.05},{"w":8575,"f":0.15},{"w":8579,"f":-0.04},{"w":8583,"f":-0.08},{"w":8587,"f":-0.24},{"w":8591,"f":-0.12},{"w":8595,"f":-0.09},{"w":8599,"f":0.01},{"w":8603,"f":0.04},{"w":8607,"f":0.19},{"w":8611,"f":0.21},{"w":8614,"f":-0.28},{"w":8618,"f":0.03},{"w":8622,"f":0.01},{"w":8626,"f":-0.14},{"w":8630,"f":0.04},{"w":8634,"f":-0.22},{"w":8638,"f":0.07},{"w":8642,"f":-0.18},{"w":8646,"f":-0.46},{"w":8650,"f":-0.21},{"w":8654,"f":-0.21},{"w":8658,"f":-0.43},{"w":8661,"f":-0.04},{"w":8665,"f":0.29},{"w":8669,"f":0.01},{"w":8673,"f":-0.18},{"w":8677,"f":-0.3},{"w":8681,"f":-0.19},{"w":8685,"f":-0.3},{"w":8689,"f":-0.24},{"w":8693,"f":-0.05},{"w":8697,"f":0.12},{"w":8701,"f":-0.05},{"w":8705,"f":0.12},{"w":8708,"f":0.01},{"w":8712,"f":0.07},{"w":8716,"f":0.18},{"w":8720,"f":0.05},{"w":8724,"f":0.08},{"w":8728,"f":0.03},{"w":8732,"f":0.05},{"w":8736,"f":0.07},{"w":8740,"f":0.23},{"w":8744,"f":0.05},{"w":8748,"f":-0.3},{"w":8752,"f":0.03},{"w":8755,"f":0.29},{"w":8759,"f":-0.14},{"w":8763,"f":-0.26},{"w":8767,"f":-0.04},{"w":8771,"f":-0.37},{"w":8775,"f":-0.28},{"w":8779,"f":-0.3},{"w":8783,"f":-0.49},{"w":8785,"f":-0.69},{"w":8789,"f":-0.06},{"w":8793,"f":-0.07},{"w":8797,"f":0.01},{"w":8801,"f":-0.24},{"w":8805,"f":-0.08},{"w":8809,"f":-0.33},{"w":8813,"f":-0.07},{"w":8817,"f":0.23},{"w":8821,"f":-0.21},{"w":8825,"f":-0.37},{"w":8829,"f":-0.07},{"w":8832,"f":-0.69},{"w":8836,"f":0.07},{"w":8840,"f":0.07},{"w":8844,"f":-0.15},{"w":8848,"f":-0.03},{"w":8852,"f":-0.05},{"w":8856,"f":-0.09},{"w":8860,"f":0.09},{"w":8864,"f":-0.37},{"w":8868,"f":-0.07},{"w":8872,"f":-0.18},{"w":8876,"f":-0.03},{"w":8879,"f":0.1},{"w":8883,"f":-0.17},{"w":8887,"f":0.0},{"w":8891,"f":-0.3},{"w":8895,"f":-0.7},{"w":8899,"f":-0.04},{"w":8903,"f":0.1},{"w":8907,"f":-0.15},{"w":8911,"f":0.01},{"w":8915,"f":-0.43},{"w":8919,"f":0.08},{"w":8923,"f":-0.12},{"w":8926,"f":-0.04},{"w":8930,"f":0.22},{"w":8934,"f":-0.21},{"w":8938,"f":0.05},{"w":8942,"f":-0.09},{"w":8946,"f":0.15},{"w":8950,"f":-0.26},{"w":8954,"f":0.07},{"w":8956,"f":0.26},{"w":8960,"f":-0.14},{"w":8964,"f":-0.46},{"w":8968,"f":-0.18},{"w":8972,"f":-0.18},{"w":8976,"f":-0.05},{"w":8980,"f":-0.43},{"w":8984,"f":-0.11},{"w":8988,"f":0.05},{"w":8992,"f":0.2},{"w":8996,"f":-0.15},{"w":9000,"f":-0.11},{"w":9003,"f":-0.16},{"w":9007,"f":-0.24},{"w":9011,"f":0.14},{"w":9015,"f":-0.12},{"w":9019,"f":-0.18},{"w":9023,"f":0.19},{"w":9027,"f":-0.11},{"w":9031,"f":-0.05},{"w":9035,"f":-0.11},{"w":9039,"f":0.26},{"w":9043,"f":0.03},{"w":9047,"f":0.13},{"w":9050,"f":-0.16},{"w":9054,"f":-0.12},{"w":9058,"f":-0.04},{"w":9062,"f":0.08},{"w":9066,"f":-0.24},{"w":9070,"f":0.03},{"w":9074,"f":0.14},{"w":9078,"f":-0.11},{"w":9082,"f":-0.12},{"w":9086,"f":-0.04},{"w":9090,"f":0.18},{"w":9093,"f":-0.04},{"w":9097,"f":0.03},{"w":9101,"f":-0.24},{"w":9105,"f":0.05},{"w":9109,"f":0.0},{"w":9113,"f":-0.09},{"w":9117,"f":-0.15},{"w":9121,"f":-0.3},{"w":9125,"f":-0.02},{"w":9129,"f":0.11},{"w":9133,"f":-0.05},{"w":9137,"f":-0.13},{"w":9140,"f":0.01},{"w":9144,"f":0.18},{"w":9148,"f":-0.05},{"w":9152,"f":-0.04},{"w":9156,"f":0.01},{"w":9160,"f":0.19},{"w":9164,"f":-0.12},{"w":9168,"f":-0.21},{"w":9170,"f":-0.35},{"w":9174,"f":-0.05},{"w":9178,"f":0.01},{"w":9182,"f":-0.12},{"w":9186,"f":0.17},{"w":9190,"f":-0.14},{"w":9194,"f":-0.28},{"w":9198,"f":-0.04},{"w":9202,"f":0.2},{"w":9206,"f":-0.09},{"w":9210,"f":-0.15},{"w":9214,"f":-0.05},{"w":9217,"f":-0.16},{"w":9221,"f":-0.09},{"w":9225,"f":-0.38},{"w":9229,"f":-0.01},{"w":9233,"f":-0.28},{"w":9237,"f":-0.17},{"w":9241,"f":-0.11},{"w":9245,"f":-0.17},{"w":9249,"f":0.05},{"w":9253,"f":-0.03},{"w":9257,"f":0.31},{"w":9261,"f":-0.37},{"w":9264,"f":-0.37},{"w":9268,"f":-0.12},{"w":9272,"f":-0.46},{"w":9276,"f":0.08},{"w":9280,"f":-0.24},{"w":9284,"f":0.08},{"w":9288,"f":0.09},{"w":9292,"f":-0.16},{"w":9296,"f":-0.07},{"w":9300,"f":-0.07}
    ],
    "zero": [{"f": 0}]
  },
  "layer": [
    {
      "data": {"name": "sky"},
      "mark": {"type": "line", "color": "#008000", "strokeWidth": 1.4, "clip": true},
      "encoding": {
        "x": {"field": "w", "type": "quantitative", "title": "Wavelength", "scale": {"domain": [4749, 9301], "nice": false, "zero": false},
              "axis": {"values": [5000, 6000, 7000, 8000, 9000], "format": "d", "labelFontSize": 27, "titleFontSize": 32, "labelPadding": 16, "titlePadding": 5, "labelFlush": false}},
        "y": {"field": "f", "type": "quantitative", "title": "10⁻¹⁸ erg s⁻¹ cm⁻² Å⁻¹", "scale": {"domain": [-0.762, 0.552], "nice": false, "zero": false},
              "axis": {"values": [-0.6, -0.4, -0.2, 0, 0.2, 0.4], "format": ".1f", "labelFontSize": 34, "titleFontSize": 47, "labelPadding": 18, "titlePadding": 22}}
      }
    },
    {
      "data": {"name": "zero"},
      "mark": {"type": "rule", "color": "#0000ff", "strokeWidth": 6},
      "encoding": {"y": {"field": "f", "type": "quantitative"}}
    },
    {
      "data": {"name": "spec"},
      "mark": {"type": "line", "color": "#000000", "strokeWidth": 4.5, "clip": true},
      "encoding": {
        "x": {"field": "w", "type": "quantitative", "title": "Wavelength", "scale": {"domain": [4749, 9301], "nice": false, "zero": false},
              "axis": {"values": [5000, 6000, 7000, 8000, 9000], "format": "d", "labelFontSize": 27, "titleFontSize": 32, "labelPadding": 16, "titlePadding": 5, "labelFlush": false}},
        "y": {"field": "f", "type": "quantitative", "title": "10⁻¹⁸ erg s⁻¹ cm⁻² Å⁻¹", "scale": {"domain": [-0.762, 0.552], "nice": false, "zero": false},
              "axis": {"values": [-0.6, -0.4, -0.2, 0, 0.2, 0.4], "format": ".1f", "labelFontSize": 34, "titleFontSize": 47, "labelPadding": 18, "titlePadding": 22}}
      }
    }
  ],
  "config": {
    "view": {"stroke": "#000000", "strokeWidth": 2.5},
    "axis": {"domain": false, "grid": false, "labelFont": "DejaVu Sans", "titleFont": "DejaVu Sans", "labelColor": "#000000", "titleColor": "#000000", "tickColor": "#000000", "tickWidth": 2.5, "tickSize": 13, "titleFontWeight": "normal"}
  }
}
